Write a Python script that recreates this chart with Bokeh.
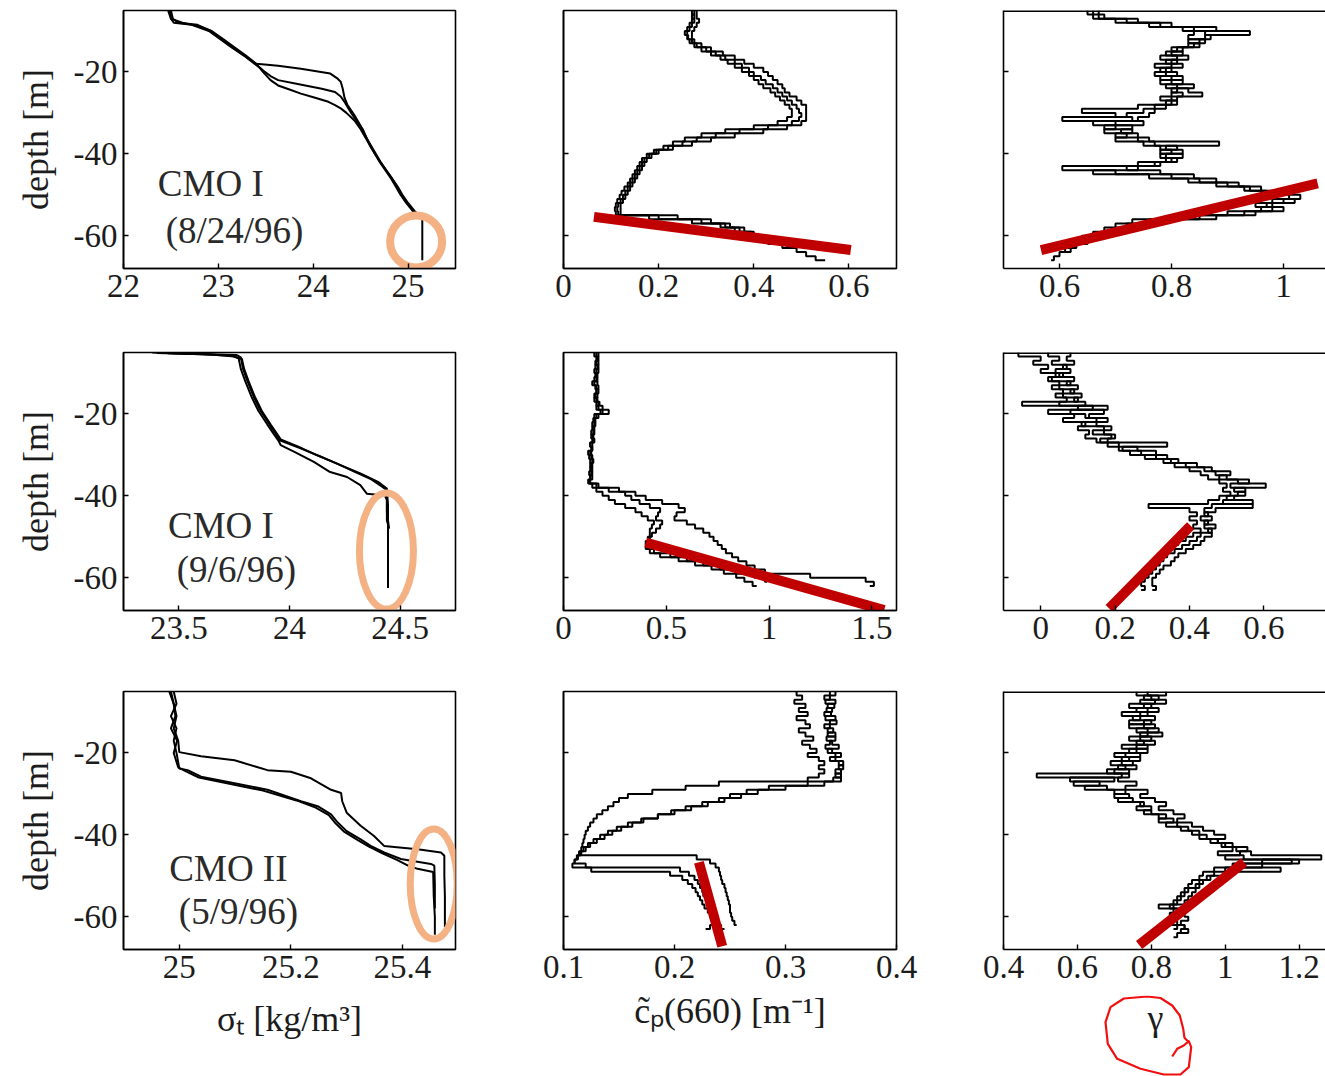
from bokeh.plotting import figure
from bokeh.layouts import column, row
from bokeh.models import FixedTicker, Span, Label, CustomLabelingPolicy
from bokeh.embed import file_html
from bokeh.resources import INLINE
from bokeh.core.properties import value

FONT = "Liberation Serif"
INK = "#1c1c1c"
FIT_RED = "#C00000"
RING = "#F4B183"
PEN_RED = "#F01010"

# ---------------------------------------------------------------- depth grid
DEPTH = [-5, -6, -7, -8, -9, -10, -11, -12, -13, -14, -15, -16, -17, -18, -19, -20,
         -21, -22, -23, -24, -25, -26, -27, -28, -29, -30, -31, -32, -33, -34, -35,
         -36, -37, -38, -39, -40, -41, -42, -43, -44, -45, -46, -47, -48, -49, -50,
         -51, -52, -53, -54, -55, -56, -57, -58, -59, -60, -61, -62, -63, -64, -65, -66]

# ---------------------------------------------------------------- sigma_t profiles
sig1_a_d = [-5, -7, -8, -8.5, -10, -12, -14, -16, -17, -18, -18.5, -19.2, -20.4, -21.5, -22.4, -24,
            -26.3, -28, -30.4, -32, -34, -36, -38, -40, -42, -44, -46, -48, -50, -52, -54, -55]
sig1_a_x = [22.49, 22.50, 22.53, 22.72, 22.90, 23.02, 23.14, 23.27, 23.33, 23.40, 23.63, 23.87, 24.18,
            24.25, 24.29, 24.31, 24.33, 24.36, 24.43, 24.47, 24.52, 24.56, 24.60, 24.65, 24.70, 24.76,
            24.82, 24.87, 24.92, 24.98, 25.05, 25.10]
sig1_b_d = [-5, -7, -8, -8.5, -10, -12, -14, -16, -18, -19, -20, -21, -22, -23, -24.1, -24.9, -26,
            -27.3, -28.5, -30, -32, -34, -36, -38, -40, -42, -44, -46, -48, -50, -52, -54, -55, -55.5,
            -60, -66]
sig1_b_x = [22.50, 22.52, 22.58, 22.78, 22.92, 23.03, 23.15, 23.27, 23.38, 23.44, 23.49, 23.55, 23.63,
            23.85, 24.09, 24.23, 24.29, 24.33, 24.36, 24.40, 24.46, 24.52, 24.56, 24.61, 24.66, 24.71,
            24.77, 24.83, 24.88, 24.93, 24.99, 25.06, 25.12, 25.15, 25.15, 25.15]
sig1_c_d = [-5, -7, -8, -9, -10, -12, -14, -16, -18, -20, -22, -23.3, -24.3, -25.3, -26.3, -27.3,
            -28.1, -28.9, -30, -32, -34, -36, -38, -40, -42, -44, -46, -48, -50, -52, -54, -55]
sig1_c_x = [22.47, 22.50, 22.62, 22.82, 22.93, 23.05, 23.17, 23.29, 23.40, 23.47, 23.55, 23.63, 23.75,
            23.87, 24.02, 24.16, 24.23, 24.29, 24.35, 24.44, 24.50, 24.55, 24.60, 24.65, 24.71, 24.77,
            24.83, 24.89, 24.94, 25.00, 25.07, 25.11]

sig2_a_d = [-5.0, -5.3, -5.6, -6.2, -9, -12, -16, -19.3, -22.6, -25, -26.3, -28.4, -30.4, -32.5,
            -34.5, -36.6, -38.2, -39, -44, -48]
sig2_a_x = [23.38, 23.56, 23.76, 23.78, 23.79, 23.81, 23.84, 23.87, 23.91, 23.94, 23.95, 24.05, 24.14,
            24.23, 24.32, 24.40, 24.44, 24.44, 24.44, 24.45]
sig2_b_d = [-5.1, -5.4, -5.8, -6.4, -9, -12, -16, -19.3, -22.6, -25, -26.5, -27.6, -29.2, -31.7,
            -34.1, -35.4, -37.4, -39.5, -39.9, -41, -46, -47, -52, -62.5]
sig2_b_x = [23.40, 23.60, 23.74, 23.77, 23.78, 23.80, 23.83, 23.86, 23.90, 23.93, 23.95, 23.96, 24.02,
            24.11, 24.18, 24.26, 24.32, 24.35, 24.43, 24.44, 24.44, 24.445, 24.445, 24.445]
sig2_c_d = [-5.2, -5.5, -6, -6.6, -9, -12, -16, -19.3, -22.6, -25, -26.2, -28, -30, -32, -34, -36,
            -37.8, -38.6, -42, -46]
sig2_c_x = [23.45, 23.65, 23.75, 23.785, 23.795, 23.815, 23.845, 23.875, 23.915, 23.945, 23.96, 24.04,
            24.12, 24.21, 24.29, 24.37, 24.42, 24.44, 24.445, 24.445]

sig3_a_d = [-5, -8, -11, -14, -17, -19.8, -20.8, -21.8, -24.2, -24.6, -26.2, -29.0, -29.8, -31.8,
            -34.6, -37.8, -40.3, -42.7, -43.5, -44.3, -45.1, -50, -55, -62.5]
sig3_a_x = [24.985, 24.99, 24.995, 24.99, 24.998, 25.0, 25.039, 25.099, 25.158, 25.2, 25.236, 25.272,
            25.29, 25.292, 25.30, 25.325, 25.349, 25.367, 25.427, 25.469, 25.475, 25.475, 25.476, 25.476]
sig3_b_d = [-5, -8, -11, -14, -17, -20, -23.8, -24.2, -25.8, -27.4, -29.0, -31.8, -33.0, -35.0, -37.0,
            -39.1, -41.1, -42.7, -44.3, -45.9, -47.1, -47.5, -52, -58]
sig3_b_x = [24.99, 24.995, 24.985, 24.995, 24.99, 24.995, 25.0, 25.015, 25.039, 25.099, 25.158, 25.218,
            25.248, 25.272, 25.284, 25.30, 25.325, 25.343, 25.367, 25.397, 25.451, 25.457, 25.458, 25.458]
sig3_c_d = [-5, -8, -11, -14, -17, -20, -23.5, -24.5, -26, -27.6, -29.2, -31.6, -33.2, -35.2, -37.2,
            -39.3, -41.3, -42.9, -44.5, -46.1, -47.5, -48.3, -49.1, -55, -60, -64.4]
sig3_c_x = [24.982, 24.99, 24.993, 24.985, 24.996, 24.99, 24.998, 25.012, 25.035, 25.092, 25.15, 25.21,
            25.242, 25.268, 25.28, 25.296, 25.32, 25.34, 25.364, 25.39, 25.41, 25.427, 25.455, 25.456,
            25.458, 25.458]

# ---------------------------------------------------------------- beam attenuation c_p(660), on DEPTH
cp1_a = [0.28, 0.28, 0.285, 0.28, 0.275, 0.27, 0.27, 0.275, 0.29, 0.31, 0.335, 0.36, 0.38, 0.40, 0.42,
         0.43, 0.44, 0.45, 0.46, 0.465, 0.475, 0.49, 0.50, 0.51, 0.51, 0.51, 0.51, 0.50, 0.47, 0.42,
         0.36, 0.31, 0.27, 0.23, 0.20, 0.185, 0.175, 0.17, 0.165, 0.16, 0.155, 0.15, 0.145, 0.14, 0.135,
         0.13, 0.125, 0.12, 0.12, 0.12, 0.24, 0.31, 0.35, 0.38, 0.40, 0.42, 0.45, 0.47, 0.49, 0.51,
         0.53, 0.55]
cp1_b = [0.275, 0.27, 0.275, 0.27, 0.265, 0.26, 0.262, 0.27, 0.28, 0.30, 0.32, 0.34, 0.36, 0.375, 0.39,
         0.40, 0.415, 0.425, 0.44, 0.45, 0.46, 0.47, 0.48, 0.49, 0.495, 0.50, 0.495, 0.48, 0.43, 0.37,
         0.32, 0.28, 0.25, 0.22, 0.195, 0.18, 0.17, 0.165, 0.16, 0.155, 0.15, 0.145, 0.14, 0.135, 0.13,
         0.125, 0.12, 0.115, 0.113, 0.115, 0.20, 0.29, 0.34, 0.37, 0.395, 0.415, 0.44, 0.46, 0.48]
cp1_c = [0.27, 0.275, 0.27, 0.265, 0.26, 0.255, 0.26, 0.265, 0.275, 0.29, 0.31, 0.33, 0.345, 0.36,
         0.375, 0.39, 0.40, 0.41, 0.42, 0.435, 0.445, 0.455, 0.465, 0.475, 0.48, 0.48, 0.47, 0.45, 0.40,
         0.34, 0.29, 0.255, 0.23, 0.21, 0.19, 0.175, 0.165, 0.16, 0.155, 0.15, 0.145, 0.14, 0.135, 0.128,
         0.122, 0.118, 0.113, 0.11, 0.108, 0.11, 0.18, 0.27, 0.33, 0.36, 0.385, 0.41, 0.43, 0.45]

cp2_a = [0.17, 0.165, 0.16, 0.17, 0.16, 0.155, 0.165, 0.15, 0.16, 0.17, 0.155, 0.16, 0.175, 0.19, 0.22,
         0.16, 0.15, 0.14, 0.15, 0.145, 0.14, 0.15, 0.14, 0.135, 0.12, 0.14, 0.145, 0.14, 0.135, 0.14,
         0.13, 0.125, 0.17, 0.27, 0.35, 0.40, 0.48, 0.56, 0.59, 0.55, 0.54, 0.60, 0.64, 0.68, 0.71, 0.73,
         0.75, 0.77, 0.79, 0.82, 0.85, 0.89, 0.93, 0.98, 1.20, 1.47, 1.51, 1.49]
cp2_b = [0.16, 0.17, 0.155, 0.165, 0.17, 0.16, 0.15, 0.165, 0.17, 0.16, 0.165, 0.15, 0.16, 0.17, 0.18,
         0.17, 0.155, 0.15, 0.145, 0.15, 0.135, 0.145, 0.13, 0.14, 0.13, 0.135, 0.14, 0.13, 0.14, 0.135,
         0.14, 0.13, 0.16, 0.22, 0.30, 0.33, 0.37, 0.42, 0.47, 0.46, 0.45, 0.48, 0.47, 0.45, 0.43, 0.42,
         0.41, 0.41, 0.44, 0.52, 0.60, 0.68, 0.76, 0.84, 0.93, 0.98, 0.99]
cp2_c = [0.15, 0.16, 0.17, 0.155, 0.15, 0.165, 0.16, 0.14, 0.155, 0.16, 0.15, 0.165, 0.17, 0.16, 0.19,
         0.15, 0.145, 0.155, 0.14, 0.135, 0.145, 0.14, 0.13, 0.14, 0.135, 0.125, 0.13, 0.135, 0.13,
         0.125, 0.13, 0.12, 0.14, 0.16, 0.19, 0.22, 0.25, 0.30, 0.35, 0.38, 0.41, 0.44, 0.43, 0.42, 0.42,
         0.41, 0.40, 0.40, 0.42, 0.47, 0.56, 0.64, 0.72, 0.78, 0.84, 0.88, 0.92, 0.94]

cp3_a = [0.31, 0.315, 0.308, 0.318, 0.312, 0.32, 0.31, 0.318, 0.322, 0.312, 0.318, 0.325, 0.315, 0.322,
         0.328, 0.32, 0.33, 0.335, 0.33, 0.335, 0.33, 0.32, 0.24, 0.21, 0.18, 0.158, 0.15, 0.145, 0.14,
         0.135, 0.13, 0.127, 0.124, 0.122, 0.12, 0.119, 0.118, 0.117, 0.116, 0.114, 0.22, 0.232, 0.237,
         0.24, 0.241, 0.242, 0.243, 0.245, 0.246, 0.247, 0.248, 0.249, 0.25, 0.25, 0.251, 0.252, 0.254,
         0.256]
cp3_b = [0.34, 0.335, 0.345, 0.338, 0.342, 0.335, 0.345, 0.34, 0.335, 0.343, 0.338, 0.345, 0.34, 0.336,
         0.342, 0.35, 0.345, 0.352, 0.348, 0.35, 0.345, 0.35, 0.32, 0.285, 0.265, 0.25, 0.24, 0.225,
         0.21, 0.197, 0.185, 0.17, 0.158, 0.148, 0.14, 0.133, 0.127, 0.122, 0.118, 0.115, 0.112, 0.11,
         0.12, 0.205, 0.213, 0.218, 0.221, 0.223, 0.225, 0.226, 0.228, 0.23, 0.232, 0.234, 0.236, 0.238,
         0.24, 0.242, 0.245]
cp3_c = [0.345, 0.34, 0.336, 0.344, 0.337, 0.341, 0.336, 0.346, 0.34, 0.338, 0.345, 0.337, 0.342, 0.348,
         0.338, 0.345, 0.34, 0.348, 0.352, 0.345, 0.35, 0.343, 0.335, 0.30, 0.275, 0.26, 0.245, 0.23,
         0.215, 0.2, 0.185, 0.172, 0.162, 0.152, 0.144, 0.137, 0.13, 0.124, 0.12, 0.116, 0.113, 0.11,
         0.108, 0.125, 0.196, 0.207, 0.212, 0.216, 0.219, 0.221, 0.223, 0.225, 0.227, 0.23, 0.232, 0.234,
         0.236, 0.232, 0.228]

# ---------------------------------------------------------------- spectral slope gamma, on DEPTH
gam1_a = [0.66, 0.68, 0.70, 0.76, 0.84, 0.94, 0.86, 0.85, 0.83, 0.82, 0.80, 0.81, 0.79, 0.80, 0.78,
          0.79, 0.80, 0.78, 0.81, 0.83, 0.855, 0.81, 0.79, 0.77, 0.75, 0.72, 0.605, 0.70, 0.73, 0.71,
          0.74, 0.76, 0.885, 0.79, 0.80, 0.78, 0.80, 0.77, 0.72, 0.78, 0.84, 0.88, 0.92, 0.96, 0.99, 1.01,
          0.98, 0.97, 1.00, 0.95, 0.85, 0.76, 0.72, 0.70, 0.68, 0.66, 0.64, 0.62, 0.61, 0.60, 0.59, 0.585]
gam1_b = [0.65, 0.66, 0.74, 0.80, 0.88, 0.84, 0.83, 0.86, 0.84, 0.80, 0.82, 0.78, 0.81, 0.77, 0.80,
          0.77, 0.82, 0.80, 0.84, 0.80, 0.82, 0.80, 0.81, 0.74, 0.64, 0.70, 0.73, 0.75, 0.68, 0.73, 0.70,
          0.74, 0.77, 0.81, 0.78, 0.82, 0.79, 0.74, 0.605, 0.70, 0.80, 0.85, 0.90, 0.94, 0.97, 1.03, 1.00,
          0.95, 0.98, 0.90, 0.80, 0.73, 0.70, 0.68, 0.66, 0.64, 0.62, 0.61]
gam1_c = [0.67, 0.67, 0.72, 0.78, 0.82, 0.86, 0.87, 0.83, 0.85, 0.81, 0.79, 0.83, 0.80, 0.82, 0.79,
          0.81, 0.78, 0.82, 0.79, 0.81, 0.80, 0.78, 0.80, 0.79, 0.77, 0.76, 0.74, 0.66, 0.70, 0.68, 0.72,
          0.70, 0.75, 0.78, 0.82, 0.79, 0.81, 0.78, 0.74, 0.66, 0.76, 0.83, 0.88, 0.93, 0.96, 0.98, 1.02,
          0.98, 0.96, 0.93, 0.88, 0.78, 0.74, 0.71, 0.69, 0.67, 0.65, 0.63, 0.62, 0.61]

gam2_a = [0.02, 0.05, 0.03, 0.07, 0.04, 0.06, 0.03, 0.08, 0.05, 0.09, 0.06, 0.10, -0.05, 0.14, 0.08,
          0.12, 0.15, 0.11, 0.17, 0.14, 0.19, 0.16, 0.34, 0.22, 0.27, 0.31, 0.35, 0.39, 0.44, 0.47, 0.50,
          0.53, 0.605, 0.52, 0.55, 0.50, 0.57, 0.46, 0.44, 0.45, 0.43, 0.45, 0.44, 0.46, 0.43, 0.42, 0.40,
          0.38, 0.36, 0.34, 0.33, 0.32, 0.31, 0.30, 0.29, 0.28, 0.27, 0.28, 0.27]
gam2_b = [-0.06, 0.0, -0.02, 0.02, 0.0, 0.04, 0.02, 0.05, 0.03, 0.06, 0.04, 0.07, 0.05, 0.18, 0.02,
          0.09, 0.06, 0.12, 0.10, 0.13, 0.12, 0.15, 0.18, 0.21, 0.24, 0.28, 0.33, 0.36, 0.40, 0.43, 0.45,
          0.48, 0.50, 0.49, 0.51, 0.48, 0.45, 0.29, 0.40, 0.42, 0.40, 0.42, 0.41, 0.43, 0.41, 0.39, 0.37,
          0.35, 0.33, 0.32, 0.31, 0.30, 0.29, 0.28, 0.27, 0.27]
gam2_c = [0.08, 0.07, 0.09, 0.06, 0.08, 0.05, 0.09, 0.07, 0.10, 0.08, 0.11, 0.09, 0.12, 0.10, 0.17,
          0.13, 0.18, 0.15, 0.19, 0.17, 0.20, 0.18, 0.21, 0.26, 0.31, 0.34, 0.37, 0.42, 0.46, 0.51, 0.48,
          0.56, 0.51, 0.55, 0.53, 0.52, 0.49, 0.57, 0.47, 0.44, 0.46, 0.44, 0.47, 0.45, 0.46, 0.44, 0.43,
          0.41, 0.39, 0.37, 0.36, 0.35, 0.33, 0.32, 0.31, 0.30, 0.30, 0.31, 0.30]

gam3_a = [0.79, 0.82, 0.77, 0.80, 0.76, 0.79, 0.75, 0.80, 0.78, 0.82, 0.77, 0.80, 0.76, 0.79, 0.74,
          0.77, 0.72, 0.75, 0.71, 0.74, 0.49, 0.70, 0.59, 0.68, 0.73, 0.70, 0.75, 0.78, 0.76, 0.80, 0.84,
          0.82, 0.87, 0.90, 0.93, 0.95, 0.98, 1.00, 1.03, 1.07, 1.26, 1.10, 1.05, 1.15, 1.00, 0.96, 0.94,
          0.93, 0.92, 0.91, 0.90, 0.89, 0.82, 0.88, 0.89, 0.90, 0.88, 0.89, 0.90, 0.88]
gam3_b = [0.84, 0.78, 0.81, 0.74, 0.79, 0.72, 0.77, 0.74, 0.81, 0.76, 0.79, 0.74, 0.78, 0.72, 0.76,
          0.70, 0.74, 0.69, 0.73, 0.68, 0.72, 0.58, 0.66, 0.62, 0.70, 0.74, 0.71, 0.77, 0.80, 0.78, 0.82,
          0.86, 0.84, 0.88, 0.91, 0.93, 0.96, 0.99, 1.02, 0.98, 1.05, 1.18, 1.02, 0.97, 0.94, 0.93, 0.91,
          0.90, 0.89, 0.88, 0.87, 0.86, 0.85, 0.86, 0.85, 0.86, 0.85, 0.87, 0.86]
gam3_c = [0.76, 0.80, 0.84, 0.78, 0.82, 0.77, 0.81, 0.78, 0.74, 0.79, 0.83, 0.77, 0.81, 0.76, 0.79,
          0.73, 0.77, 0.72, 0.76, 0.70, 0.74, 0.71, 0.76, 0.73, 0.79, 0.77, 0.81, 0.84, 0.82, 0.86, 0.89,
          0.87, 0.91, 0.94, 0.97, 1.00, 0.98, 1.02, 1.06, 1.04, 1.00, 1.20, 1.10, 1.00, 0.97, 0.95, 0.93,
          0.92, 0.90, 0.89, 0.88, 0.87, 0.86, 0.87, 0.88, 0.86, 0.87, 0.89, 0.88, 0.87, 0.86]

# ---------------------------------------------------------------- fitted slopes (x pair, depth pair)
fit1_cp = ([0.064, 0.604], [-55.4, -63.5])
fit1_gam = ([0.567, 1.061], [-63.5, -47.2])
fit2_cp = ([0.40, 1.56], [-51.4, -67.9])
fit2_gam = ([0.184, 0.403], [-67.5, -47.3])
fit3_cp = ([0.222, 0.243], [-46.7, -67.2])
fit3_gam = ([0.767, 1.051], [-66.9, -46.7])

# mixed-layer markers on the density panels: centre x, centre depth, width px, height px
mark1 = (25.085, -61.4, 52, 52)
mark2 = (24.438, -53.5, 54, 116)
mark3 = (25.456, -52.0, 47, 110)

# station captions
cruise = ["CMO I", "CMO I", "CMO II"]
dates = ["(8/24/96)", "(9/6/96)", "(5/9/96)"]
caption_pos = [((22.92, -47.3), (23.17, -58.8)),
               ((23.69, -47.2), (23.76, -58.1)),
               ((25.088, -48.3), (25.106, -58.7))]

# axis ranges and ticks
x_ranges = [[(22, 25.5), (0, 0.7), (0.5, 1.075)],
            [(23.25, 24.75), (0, 1.62), (-0.1, 0.7656)],
            [(24.9, 25.495), (0.1, 0.4), (0.4, 1.2714)]]
x_ticks = [[[22, 23, 24, 25], [0, 0.2, 0.4, 0.6], [0.6, 0.8, 1]],
           [[23.5, 24, 24.5], [0, 0.5, 1, 1.5], [0, 0.2, 0.4, 0.6]],
           [[25, 25.2, 25.4], [0.1, 0.2, 0.3, 0.4], [0.4, 0.6, 0.8, 1, 1.2]]]
y_ticks = [-60, -40, -20]
x_titles = ["σₜ [kg/m³]", "c̃ₚ(660) [m⁻¹]"]
x_title_standoff = [18, 10]
gamma_title = "γ"

# hand-drawn ring round the γ title, in the pixel units of the strip under the last panel
ring_x = [191.7, 196.7, 203.3, 208.3, 210.7, 208.3, 200.0, 183.3, 160.0, 136.7, 127.3, 125.0, 130.0,
          143.3, 155.0, 166.7, 180.0, 191.7, 199.3, 202.7, 204.0, 207.3]
ring_y = [20.0, 27.7, 31.0, 35.3, 29.3, 9.3, 2.0, 2.0, 7.7, 17.7, 32.7, 54.3, 69.3, 78.0, 79.0, 80.0,
          78.5, 71.0, 61.0, 47.7, 38.7, 35.3]

# ---------------------------------------------------------------- layout geometry
FRAME_H = 258
FRAME_W = [332, 333, 322]
BORDER_LR = [(123, 75), (33, 84), (23, 0)]
BORDER_TB = [(10, 72), (12, 70), (11, 127)]
LAST_BOTTOM = 46          # bottom border of the last panel, the γ strip sits below it
STRIP_H = 396 - 11 - FRAME_H - LAST_BOTTOM
TICK_PX = "33px"
TITLE_PX = "36px"
CAPTION_PX = "37px"

hide_labels = CustomLabelingPolicy(code="for (const i of indices) indices.unset(i); return indices")


def staircase(xv, dv):
    xs, ys = [], []
    n = min(len(xv), len(dv))
    for i in range(n):
        xs.append(xv[i])
        ys.append(dv[i])
        if i + 1 < n:
            xs.append(xv[i])
            ys.append(dv[i + 1])
    return xs, ys


def make_panel(r, c):
    left, right = BORDER_LR[c]
    top, bottom = BORDER_TB[r]
    if r == 2 and c == 2:
        bottom = LAST_BOTTOM
    p = figure(frame_width=FRAME_W[c], frame_height=FRAME_H,
               x_range=x_ranges[r][c], y_range=(-68, -5),
               min_border_left=left, min_border_right=right,
               min_border_top=top, min_border_bottom=bottom,
               output_backend="svg", toolbar_location=None, tools="",
               background_fill_color="white", border_fill_color="white")
    p.grid.visible = False
    if c < 2:
        p.outline_line_color = "black"
        p.outline_line_width = 1.6
    else:
        p.outline_line_color = None
        p.add_layout(Span(location=-5, dimension="width", line_color="black", line_width=3))

    for ax, ticks in ((p.xaxis[0], x_ticks[r][c]), (p.yaxis[0], y_ticks)):
        ax.ticker = FixedTicker(ticks=ticks)
        ax.major_label_overrides = {t: f"{t:g}" for t in ticks}
        ax.major_tick_in = 5
        ax.major_tick_out = 0
        ax.minor_tick_line_color = None
        ax.axis_line_width = 1.6
        ax.major_tick_line_width = 1.4
        ax.major_label_text_font = FONT
        ax.major_label_text_font_size = TICK_PX
        ax.major_label_text_color = INK
        ax.major_label_standoff = 6
        ax.axis_label_text_font = FONT
        ax.axis_label_text_font_size = TITLE_PX
        ax.axis_label_text_font_style = "normal"
        ax.axis_label_text_color = INK

    if c == 0:
        p.yaxis.axis_label = "depth [m]"
        p.yaxis.axis_label_standoff = 15
    else:
        # depth ticks only; the depth labels are shown once per row
        p.yaxis.major_label_policy = hide_labels
        p.yaxis.major_label_text_font_size = "0px"
    if r == 2 and c < 2:
        p.xaxis.axis_label = x_titles[c]
        p.xaxis.axis_label_standoff = x_title_standoff[c]
    return p


panels = [[make_panel(r, c) for c in range(3)] for r in range(3)]

sigma_sets = [[(sig1_a_x, sig1_a_d), (sig1_b_x, sig1_b_d), (sig1_c_x, sig1_c_d)],
              [(sig2_a_x, sig2_a_d), (sig2_b_x, sig2_b_d), (sig2_c_x, sig2_c_d)],
              [(sig3_a_x, sig3_a_d), (sig3_b_x, sig3_b_d), (sig3_c_x, sig3_c_d)]]
cp_sets = [[cp1_a, cp1_b, cp1_c], [cp2_a, cp2_b, cp2_c], [cp3_a, cp3_b, cp3_c]]
gam_sets = [[gam1_a, gam1_b, gam1_c], [gam2_a, gam2_b, gam2_c], [gam3_a, gam3_b, gam3_c]]
cp_fits = [fit1_cp, fit2_cp, fit3_cp]
gam_fits = [fit1_gam, fit2_gam, fit3_gam]
marks = [mark1, mark2, mark3]

for r in range(3):
    ps, pc, pg = panels[r]
    # density profiles
    for xv, dv in sigma_sets[r]:
        ps.line(xv, dv, line_color="black", line_width=2)
    mx, md, mw, mh = marks[r]
    ps.ellipse(x=[mx], y=[md], width=[mw], height=[mh], width_units="screen",
               height_units="screen", fill_color=None, line_color=RING,
               line_width=8 if r == 0 else 7)
    (cx1, cy1), (cx2, cy2) = caption_pos[r]
    for txt, x, y in ((cruise[r], cx1, cy1), (dates[r], cx2, cy2)):
        ps.add_layout(Label(x=x, y=y, text=txt, text_align="center", text_baseline="middle",
                            text_font=FONT, text_font_size=CAPTION_PX, text_color="#2a2a2a"))
    # attenuation profiles
    for xv in cp_sets[r]:
        xs, ys = staircase(xv, DEPTH)
        pc.line(xs, ys, line_color="black", line_width=2)
    fx, fy = cp_fits[r]
    pc.line(fx, fy, line_color=FIT_RED, line_width=10, line_cap="butt")
    # spectral slope profiles
    for xv in gam_sets[r]:
        xs, ys = staircase(xv, DEPTH)
        pg.line(xs, ys, line_color="black", line_width=2)
    fx, fy = gam_fits[r]
    pg.line(fx, fy, line_color=FIT_RED, line_width=10, line_cap="butt")

# strip under the last panel carrying the γ title and the ring drawn round it;
# its frame lines up with the panel above (frame starts 23 px in)
strip = figure(frame_width=FRAME_W[2], frame_height=STRIP_H,
               x_range=(BORDER_LR[2][0], BORDER_LR[2][0] + FRAME_W[2]), y_range=(0, STRIP_H),
               min_border=0, min_border_left=BORDER_LR[2][0], x_axis_type=None, y_axis_type=None,
               output_backend="svg", toolbar_location=None, tools="",
               background_fill_color="white", border_fill_color="white")
strip.outline_line_color = None
strip.grid.visible = False
strip.text(x=[175], y=[59], text=[gamma_title], text_font=value(FONT),
           text_font_size=value(TITLE_PX), text_color=INK, text_align="center",
           text_baseline="middle")
strip.line(ring_x, ring_y, line_color=PEN_RED, line_width=2.2, line_join="round")

layout = column(row(*panels[0]), row(*panels[1]),
                row(panels[2][0], panels[2][1], column(panels[2][2], strip)))
open("out.html", "w").write(file_html(layout, INLINE))
